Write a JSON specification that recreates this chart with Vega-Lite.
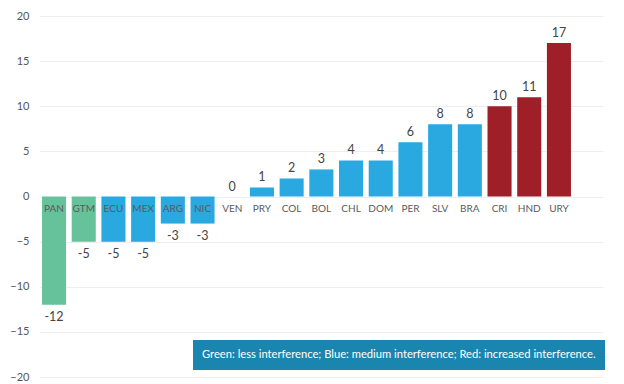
{
  "$schema": "https://vega.github.io/schema/vega-lite/v6.json",
  "autosize": "none",
  "width": 564,
  "height": 361,
  "padding": {"left": 39, "top": 16, "right": 21, "bottom": 7},
  "background": "white",
  "config": {"view": {"stroke": null}, "font": "Lato"},
  "data": {"values": [
    {"country": "PAN", "value": -12, "group": "less"},
    {"country": "GTM", "value": -5, "group": "less"},
    {"country": "ECU", "value": -5, "group": "medium"},
    {"country": "MEX", "value": -5, "group": "medium"},
    {"country": "ARG", "value": -3, "group": "medium"},
    {"country": "NIC", "value": -3, "group": "medium"},
    {"country": "VEN", "value": 0, "group": "medium"},
    {"country": "PRY", "value": 1, "group": "medium"},
    {"country": "COL", "value": 2, "group": "medium"},
    {"country": "BOL", "value": 3, "group": "medium"},
    {"country": "CHL", "value": 4, "group": "medium"},
    {"country": "DOM", "value": 4, "group": "medium"},
    {"country": "PER", "value": 6, "group": "medium"},
    {"country": "SLV", "value": 8, "group": "medium"},
    {"country": "BRA", "value": 8, "group": "medium"},
    {"country": "CRI", "value": 10, "group": "increased"},
    {"country": "HND", "value": 11, "group": "increased"},
    {"country": "URY", "value": 17, "group": "increased"}
  ]},
  "encoding": {
    "x": {"field": "country", "type": "nominal", "sort": null, "axis": null,
      "scale": {"paddingInner": 0.19, "paddingOuter": 0.59, "align": 0.086}}
  },
  "layer": [
    {
      "mark": {"type": "bar"},
      "encoding": {
        "y": {"field": "value", "type": "quantitative",
          "scale": {"domain": [-20, 20], "nice": false},
          "axis": {"values": [-20, -15, -10, -5, 0, 5, 10, 15, 20], "title": null,
            "domain": false, "ticks": false, "labelPadding": 10, "labelFontSize": 11,
            "labelColor": "#555", "gridColor": "#eeeeee", "gridWidth": 1}},
        "color": {"field": "group", "type": "nominal",
          "scale": {"domain": ["less", "medium", "increased"], "range": ["#66c29a", "#29a9e0", "#9e1f27"]},
          "legend": {"orient": "none", "legendX": 154, "legendY": 324,
            "direction": "horizontal", "values": [],
            "title": "Green: less interference; Blue: medium interference; Red: increased interference.",
            "titleColor": "white", "titleFontSize": 11.2, "titleFontWeight": "normal", "titleFont": "Lato",
            "titleLimit": 1000, "titlePadding": 0, "titleBaseline": "top",
            "fillColor": "#1a86b0", "padding": 9,
            "labelExpr": "''", "labelFontSize": 0, "symbolSize": 0, "symbolOpacity": 0,
            "symbolStrokeWidth": 0, "rowPadding": 0, "columnPadding": 0, "labelOffset": 0}}
      }
    },
    {
      "mark": {"type": "text", "baseline": "middle", "dy": 12.5, "fontSize": 10, "color": "#5a5a5a"},
      "encoding": {"y": {"datum": 0}, "text": {"field": "country"}}
    },
    {
      "transform": [{"filter": "datum.value >= 0"}],
      "mark": {"type": "text", "baseline": "middle", "dy": -10, "fontSize": 12.5, "color": "#444"},
      "encoding": {"y": {"field": "value", "type": "quantitative"}, "text": {"field": "value"}}
    },
    {
      "transform": [{"filter": "datum.value < 0"}],
      "mark": {"type": "text", "baseline": "middle", "dy": 12, "fontSize": 12.5, "color": "#444"},
      "encoding": {"y": {"field": "value", "type": "quantitative"}, "text": {"field": "value"}}
    }
  ]
}
